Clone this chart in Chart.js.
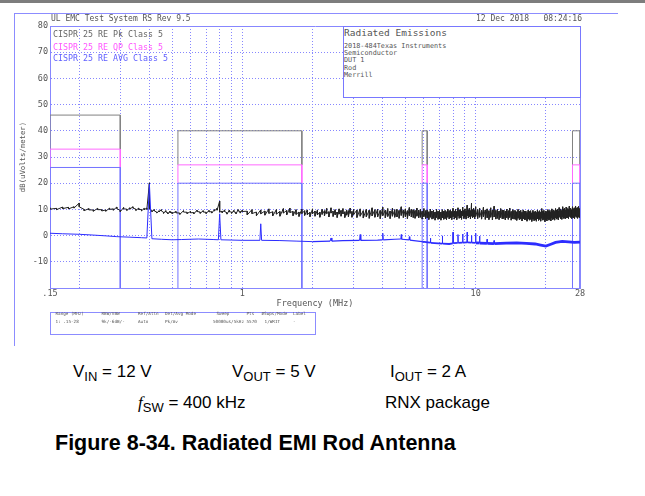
<!DOCTYPE html>
<html>
<head>
<meta charset="utf-8">
<script src="https://cdn.jsdelivr.net/npm/chart.js@4.4.1/dist/chart.umd.min.js"></script>
<style>
  html, body { margin: 0; padding: 0; background: #fff; }
  #page { position: relative; width: 645px; height: 496px; overflow: hidden; }
  #topbar { position: absolute; left: 0; top: 0; width: 645px; height: 3px; background: #7d7d7d; }
  #frameTop { position: absolute; left: 14px; top: 13px; width: 604px; height: 1px; background: rgb(140, 140, 255); }
  #frameLeft { position: absolute; left: 14px; top: 13px; width: 1px; height: 333px; background: rgb(140, 140, 255); }
  canvas { position: absolute; left: 0; top: 0; }
  .mono { position: absolute; font-family: 'DejaVu Sans Mono', monospace; white-space: pre; line-height: 1; color: #555; }
  #infoBox { position: absolute; left: 343px; top: 26px; width: 238px; height: 72px; box-sizing: border-box;
    border: 1px solid rgb(120, 120, 255); background: #fff; }
  #setBox { position: absolute; left: 50px; top: 312px; width: 266px; height: 23px; box-sizing: border-box;
    border: 1px solid rgb(140, 140, 255); }
  .cap { position: absolute; font-family: 'Liberation Sans', Arial, sans-serif; font-size: 17px; line-height: 17px;
    white-space: pre; color: #000; }
  .cap sub { font-size: 13px; vertical-align: -4px; line-height: 0; }
  #figTitle { position: absolute; left: 55px; top: 433px; font-family: 'Liberation Sans', Arial, sans-serif;
    font-weight: bold; font-size: 21.5px; line-height: 21.5px; white-space: pre; color: #000; }
</style>
</head>
<body>
<div id="page">
  <div id="topbar"></div>
  <div id="frameTop"></div>
  <div id="frameLeft"></div>
  <canvas id="emiChart" width="645" height="350"></canvas>

  <div class="mono" style="left:51px; top:15px; font-size:8px;">UL EMC Test System RS Rev 9.5</div>
  <div class="mono" style="left:476px; top:15px; font-size:8px;">12 Dec 2018   08:24:16</div>

  <div class="mono" style="left:53px; top:30px; font-size:8.3px; color:#666;">CISPR 25 RE Pk Class 5</div>
  <div class="mono" style="left:53px; top:42.5px; font-size:8.3px; color:#ff55ff;">CISPR 25 RE QP Class 5</div>
  <div class="mono" style="left:53px; top:54px; font-size:8.3px; color:#6060ff;">CISPR 25 RE AVG Class 5</div>

  <div id="infoBox"></div>
  <div class="mono" style="left:344px; top:28px; font-size:9.5px;">Radiated Emissions</div>
  <div class="mono" style="left:344px; top:42.5px; font-size:6.8px;">2018-484Texas Instruments</div>
  <div class="mono" style="left:344px; top:50px; font-size:6.8px;">Semiconductor</div>
  <div class="mono" style="left:344px; top:57.3px; font-size:6.8px;">DUT 1</div>
  <div class="mono" style="left:344px; top:64.6px; font-size:6.8px;">Rod</div>
  <div class="mono" style="left:344px; top:72px; font-size:6.8px;">Merrill</div>

  <div id="setBox"></div>
  <div class="mono" style="left:55.5px; top:312.3px; font-size:4.3px;">Range (MHz)</div>
  <div class="mono" style="left:101.5px; top:312.3px; font-size:4.3px;">RBW/VBW</div>
  <div class="mono" style="left:138px; top:312.3px; font-size:4.3px;">Ref/Attn</div>
  <div class="mono" style="left:165px; top:312.3px; font-size:4.3px;">Det/Avg Mode</div>
  <div class="mono" style="left:216.5px; top:312.3px; font-size:4.3px;">Sweep</div>
  <div class="mono" style="left:246.5px; top:312.3px; font-size:4.3px;">Pts</div>
  <div class="mono" style="left:261.5px; top:312.3px; font-size:4.3px;">#Swps/Mode</div>
  <div class="mono" style="left:293px; top:312.3px; font-size:4.3px;">Label</div>
  <div class="mono" style="left:55.5px; top:319.8px; font-size:4.3px;">1: .15-28</div>
  <div class="mono" style="left:101.5px; top:319.8px; font-size:4.3px;">9k/-6dB/-</div>
  <div class="mono" style="left:138px; top:319.8px; font-size:4.3px;">Auto</div>
  <div class="mono" style="left:165px; top:319.8px; font-size:4.3px;">Pk/Av</div>
  <div class="mono" style="left:213px; top:319.8px; font-size:4.3px;">50000us/5kHz</div>
  <div class="mono" style="left:246.5px; top:319.8px; font-size:4.3px;">5570</div>
  <div class="mono" style="left:262px; top:319.8px; font-size:4.3px;"> 1/WRIT</div>
  <div class="mono" style="left:293px; top:319.8px; font-size:4.3px;">-</div>

  <div class="cap" style="left:73px; top:362.5px;">V<sub>IN</sub> = 12 V</div>
  <div class="cap" style="left:232px; top:362.5px;">V<sub>OUT</sub> = 5 V</div>
  <div class="cap" style="left:390px; top:362.5px;">I<sub>OUT</sub> = 2 A</div>
  <div class="cap" style="left:138px; top:394px;"><i style="font-family:'Liberation Serif',serif;">f</i><sub>SW</sub> = 400 kHz</div>
  <div class="cap" style="left:385px; top:394px;">RNX package</div>
  <div id="figTitle">Figure 8-34. Radiated EMI Rod Antenna</div>
</div>

<script>
// axis ticks
const xGridTicks = [0.15, 0.2, 0.3, 0.4, 0.5, 0.6, 0.7, 0.8, 0.9,
  1, 2, 3, 4, 5, 6, 7, 8, 9, 10, 20, 28];
const xLabelValues = [0.15, 1, 10, 28];
const xLabelText = ['.15', '1', '10', '28'];
const yTickValues = [-20, -10, 0, 10, 20, 30, 40, 50, 60, 70, 80];
const Y_FLOOR = -20;

// CISPR 25 class 5 limits per band (LW, MW, SW, CB), dBuV/m
const bandStart = [0.15, 0.53, 5.9, 26];
const bandEnd = [0.3, 1.8, 6.2, 28];
const pkBand = [46, 40, 40, 40];
const qpBand = [33, 27, 27, 27];
const avgBand = [26, 20, 20, 20];

// peak detector sweep (MHz); max / min of each display bin
const sweepFreq = [
  0.15, 0.16, 0.17, 0.18, 0.19, 0.20, 0.21, 0.22, 0.23, 0.24,
  0.25, 0.26, 0.27, 0.28, 0.29, 0.30, 0.31, 0.32, 0.33, 0.34,
  0.35, 0.36, 0.37, 0.38, 0.39, 0.40, 0.41, 0.42, 0.43, 0.44,
  0.45, 0.46, 0.47, 0.48, 0.49, 0.50,
  0.52, 0.54, 0.56, 0.58, 0.60, 0.62, 0.64, 0.66, 0.68, 0.70,
  0.72, 0.74, 0.76, 0.78, 0.80, 0.82, 0.84, 0.86, 0.88, 0.90,
  0.92, 0.94, 0.96, 0.98, 1.00,
  1.05, 1.10, 1.15, 1.20, 1.25, 1.30, 1.35, 1.40, 1.45, 1.50,
  1.55, 1.60, 1.65, 1.70, 1.75, 1.80, 1.85, 1.90, 1.95, 2.00,
  2.05, 2.10, 2.15, 2.20, 2.25, 2.30, 2.35, 2.40, 2.45, 2.50,
  2.55, 2.60, 2.65, 2.70, 2.75, 2.80, 2.85, 2.90, 2.95, 3.00,
  3.1, 3.2, 3.3, 3.4, 3.5, 3.6, 3.7, 3.8, 3.9, 4.0,
  4.1, 4.2, 4.3, 4.4, 4.5, 4.6, 4.7, 4.8, 4.9, 5.0,
  5.1, 5.2, 5.3, 5.4, 5.5, 5.6, 5.7, 5.8, 5.9, 6.0,
  6.1, 6.2, 6.3, 6.4, 6.5, 6.6, 6.7, 6.8, 6.9, 7.0,
  7.1, 7.2, 7.3, 7.4, 7.5, 7.6, 7.7, 7.8, 7.9, 8.0,
  8.1, 8.2, 8.3, 8.4, 8.5, 8.6, 8.7, 8.8, 8.9, 9.0,
  9.1, 9.2, 9.3, 9.4, 9.5, 9.6, 9.7, 9.8, 9.9, 10.0,
  10.2, 10.4, 10.6, 10.8, 11.0, 11.2, 11.4, 11.6, 11.8, 12.0,
  12.2, 12.4, 12.6, 12.8, 13.0, 13.2, 13.4, 13.6, 13.8, 14.0,
  14.2, 14.4, 14.6, 14.8, 15.0, 15.2, 15.4, 15.6, 15.8, 16.0,
  16.2, 16.4, 16.6, 16.8, 17.0, 17.2, 17.4, 17.6, 17.8, 18.0,
  18.2, 18.4, 18.6, 18.8, 19.0, 19.2, 19.4, 19.6, 19.8, 20.0,
  20.2, 20.4, 20.6, 20.8, 21.0, 21.2, 21.4, 21.6, 21.8, 22.0,
  22.2, 22.4, 22.6, 22.8, 23.0, 23.2, 23.4, 23.6, 23.8, 24.0,
  24.2, 24.4, 24.6, 24.8, 25.0, 25.2, 25.4, 25.6, 25.8, 26.0,
  26.2, 26.4, 26.6, 26.8, 27.0, 27.2, 27.4, 27.6, 27.8, 28.0
];

const pkMax = [
  10.6, 10.4, 10.9, 10.8, 11.0, 12.4, 10.0, 10.3, 9.8, 10.4,
  9.9, 9.8, 10.5, 10.2, 10.9, 9.6, 10.7, 10.1, 10.6, 11.0,
  10.1, 10.5, 9.9, 10.4, 10.5, 20.1, 9.6, 9.9, 9.0, 9.5,
  9.9, 8.9, 9.5, 8.7, 9.3, 8.9,
  9.2, 8.6, 9.5, 8.9, 9.2, 8.8, 9.7, 9.0, 9.5, 8.9,
  9.6, 9.1, 9.9, 10.4, 13.2, 9.3, 9.8, 8.7, 9.7, 9.0,
  9.6, 8.8, 9.9, 9.2, 9.7,
  9.3, 9.9, 9.0, 9.8, 9.4, 10.2, 9.1, 9.9, 9.2, 10.3,
  9.6, 10.5, 9.2, 9.9, 9.0, 10.1, 9.5, 9.8, 8.9, 10.2,
  9.4, 9.8, 9.0, 10.0, 9.5, 10.4, 9.1, 10.6, 9.3, 9.9,
  9.0, 10.2, 9.6, 10.3, 9.1, 9.8, 9.5, 10.5, 9.2, 10.0,
  9.8, 10.2, 9.5, 10.0, 9.7, 10.6, 9.9, 10.1, 9.6, 10.8,
  9.7, 10.3, 9.4, 10.4, 9.9, 10.0, 9.6, 11.0, 9.8, 10.2,
  9.5, 10.7, 10.0, 9.9, 9.6, 10.5, 9.7, 10.1, 9.3, 10.3,
  9.5, 9.8, 9.1, 10.1, 9.4, 9.7, 9.0, 10.0, 9.3, 9.6,
  9.0, 9.9, 9.3, 9.6, 9.1, 10.1, 9.5, 9.8, 9.2, 10.4,
  9.4, 10.0, 9.2, 10.6, 9.7, 9.9, 9.3, 10.9, 9.6, 10.2,
  9.4, 11.6, 9.8, 10.5, 9.5, 12.3, 9.9, 10.4, 9.6, 11.0,
  9.9, 10.4, 9.6, 10.8, 9.8, 10.2, 9.5, 10.6, 9.7, 11.2,
  9.6, 10.0, 9.4, 10.3, 9.8, 9.7, 9.3, 10.1, 9.5, 10.5,
  9.2, 9.9, 9.6, 9.5, 9.1, 10.0, 9.4, 9.6, 8.9, 9.8,
  9.3, 9.4, 8.8, 9.7, 9.2, 9.5, 8.7, 9.6, 9.0, 9.3,
  8.8, 9.8, 9.1, 9.5, 8.9, 10.3, 9.3, 9.6, 8.7, 9.4,
  9.0, 9.9, 9.3, 9.6, 8.9, 10.2, 9.5, 9.8, 9.2, 10.3,
  9.7, 10.0, 9.4, 10.7, 9.9, 10.2, 9.6, 11.0, 10.1, 10.4,
  9.8, 10.9, 10.2, 10.3, 9.9, 11.2, 10.3, 10.5, 9.9, 11.0,
  10.2, 10.6, 9.9, 11.3, 10.4, 10.7, 10.0, 11.1, 10.3, 10.2
];

const pkMin = [
  10.1, 9.9, 10.3, 10.2, 10.5, 11.0, 9.5, 9.8, 9.3, 9.9,
  9.4, 9.3, 10.0, 9.7, 10.3, 9.1, 10.2, 9.6, 10.1, 10.5,
  9.6, 10.0, 9.4, 9.9, 10.0, 10.2, 9.1, 9.4, 8.6, 9.0,
  9.4, 8.5, 9.0, 8.3, 8.8, 8.4,
  8.7, 8.1, 9.0, 8.4, 8.7, 8.3, 9.2, 8.5, 9.0, 8.4,
  9.1, 8.6, 9.4, 9.7, 9.0, 8.7, 9.2, 8.2, 9.1, 8.5,
  9.1, 8.3, 9.4, 8.6, 9.2,
  7.9, 8.4, 7.6, 8.3, 7.8, 8.5, 7.5, 8.2, 7.4, 8.6,
  7.9, 8.8, 7.6, 8.1, 7.3, 8.4, 7.7, 8.0, 7.2, 8.3,
  7.4, 7.9, 7.0, 8.1, 7.5, 8.4, 7.1, 8.6, 7.3, 7.9,
  6.9, 8.2, 7.4, 8.3, 6.9, 7.8, 7.2, 8.5, 7.0, 8.0,
  6.9, 7.4, 6.7, 7.2, 6.6, 7.5, 7.0, 7.1, 6.5, 7.6,
  6.8, 7.3, 6.5, 7.4, 7.0, 7.1, 6.6, 7.7, 6.9, 7.2,
  6.5, 7.6, 7.1, 6.9, 6.6, 7.4, 6.8, 7.0, 6.3, 7.2,
  6.4, 6.8, 6.1, 7.0, 6.3, 6.6, 5.9, 6.9, 6.2, 6.5,
  5.9, 6.8, 6.2, 6.5, 6.0, 7.0, 6.4, 6.7, 6.1, 7.2,
  6.3, 6.9, 6.1, 7.4, 6.6, 6.8, 6.2, 7.6, 6.5, 7.0,
  6.3, 7.5, 6.7, 7.2, 6.4, 7.4, 6.8, 7.1, 6.5, 7.3,
  6.5, 7.0, 6.3, 7.2, 6.2, 6.8, 6.1, 7.0, 6.0, 7.1,
  6.3, 6.6, 6.1, 6.9, 6.4, 6.5, 6.0, 6.8, 6.2, 6.9,
  5.9, 6.5, 6.3, 6.2, 5.8, 6.6, 6.0, 6.3, 5.6, 6.4,
  6.0, 6.1, 5.5, 6.3, 5.9, 6.2, 5.4, 6.3, 5.7, 6.0,
  5.5, 6.4, 5.8, 6.2, 5.5, 6.6, 5.9, 6.2, 5.3, 6.0,
  5.6, 6.4, 5.9, 6.2, 5.6, 6.7, 6.1, 6.4, 5.9, 6.8,
  6.3, 6.6, 6.0, 7.0, 6.4, 6.7, 6.2, 7.2, 6.6, 6.9,
  6.4, 7.1, 6.7, 6.8, 6.5, 7.3, 6.9, 7.0, 6.5, 7.2,
  6.8, 7.0, 6.5, 7.4, 7.0, 7.1, 6.6, 7.3, 6.9, 7.0
];

// average detector trace
const avgFreq = [
  0.15, 0.17, 0.20, 0.23, 0.26, 0.29, 0.33, 0.37, 0.39, 0.40, 0.41, 0.45, 0.50,
  0.55, 0.65, 0.75, 0.79, 0.80, 0.81, 0.90, 1.00, 1.19, 1.20, 1.21, 1.45, 1.70,
  2.00, 2.38, 2.40, 2.42, 2.70, 3.18, 3.20, 3.22, 3.80, 3.98, 4.00, 4.02, 4.50,
  4.78, 4.80, 4.82, 5.18, 5.20, 5.22, 5.90, 6.38, 6.40, 6.42, 7.18, 7.20, 7.22,
  7.70, 7.98, 8.00, 8.02, 8.38, 8.40, 8.42, 8.78, 8.80, 8.82, 9.18, 9.20, 9.22,
  9.58, 9.60, 9.62, 9.98, 10.0, 10.02, 10.38, 10.4, 10.42, 11.18, 11.2, 11.22,
  11.98, 12.0, 12.02, 13.5, 15.0, 16.5, 18.0, 19.0, 20.0, 21.0, 22.0, 23.5,
  25.0, 26.5, 28.0
];
const avgLevel = [
  0.9, 0.7, 0.5, 0.2, -0.1, -0.4, -0.6, -0.8, -0.9, 19.6, -1.2, -1.4, -1.6,
  -1.5, -1.3, -1.5, -1.6, 8.3, -1.6, -1.7, -1.8, -1.8, 4.5, -1.8, -1.9, -2.1,
  -2.3, -2.1, -0.9, -2.1, -1.9, -1.8, 0.4, -1.8, -1.7, -1.6, 0.9, -1.6, -1.4,
  -1.3, 0.4, -1.4, -1.6, -0.4, -1.7, -2.3, -2.7, -1.0, -2.8, -3.1, -0.1, -3.1,
  -3.2, -3.0, 1.3, -2.9, -2.8, 0.4, -2.8, -2.7, 0.6, -2.7, -2.6, 1.3, -2.6,
  -2.7, 0.0, -2.7, -2.8, 0.9, -2.8, -2.8, -0.2, -2.9, -3.0, -1.4, -3.0,
  -3.1, -1.9, -3.1, -2.9, -2.8, -3.0, -3.2, -3.6, -4.0, -3.3, -2.6, -2.2,
  -2.4, -2.6, -2.5
];

const GRID_BLUE = 'rgb(135, 135, 255)';
const AXIS_FONT = { family: 'DejaVu Sans Mono', size: 8.5 };

// each limit is drawn as an open box per band, dropping to the next limit below
function bandOutline(top, base) {
  const pts = [];
  bandStart.forEach((f0, i) => {
    const b = Array.isArray(base) ? base[i] : base;
    pts.push({ x: f0, y: b }, { x: f0, y: top[i] }, { x: bandEnd[i], y: top[i] }, { x: bandEnd[i], y: b });
    pts.push({ x: bandEnd[i], y: null });
  });
  return pts;
}

function sweepPoints() {
  const pts = [];
  sweepFreq.forEach((f, i) => {
    pts.push({ x: f, y: pkMax[i] }, { x: f, y: pkMin[i] });
  });
  return pts;
}

function lineSet(label, data, color, order) {
  return {
    label,
    data,
    borderColor: color,
    borderWidth: 1,
    pointRadius: 0,
    tension: 0,
    fill: false,
    order,
  };
}

const avgTrace = lineSet('Avg', avgFreq.map((x, i) => ({ x, y: avgLevel[i] })), 'rgb(45, 45, 255)', 0);
avgTrace.segment = {
  // spikes stay thin, the noisy baseline gets thicker toward 28 MHz
  borderWidth: (ctx) => {
    if (Math.abs(ctx.p1.y - ctx.p0.y) > 3) return 1;
    const f = ctx.p0.parsed.x;
    return f >= 9.9 ? 2.8 : f >= 5.5 ? 1.8 : f >= 2 ? 1.2 : 1;
  },
};

const config = {
  type: 'line',
  data: {
    datasets: [
      avgTrace,
      lineSet('Peak', sweepPoints(), 'rgb(35, 35, 35)', 1),
      lineSet('AVG limit', bandOutline(avgBand, Y_FLOOR), 'rgb(115, 115, 255)', 2),
      lineSet('QP limit', bandOutline(qpBand, avgBand), 'rgb(255, 105, 255)', 3),
      lineSet('Pk limit', bandOutline(pkBand, qpBand), 'rgb(130, 130, 130)', 4),
    ],
  },
  options: {
    responsive: false,
    animation: false,
    events: [],
    layout: { padding: { left: 14, top: 26, right: 65, bottom: 41 } },
    scales: {
      x: {
        type: 'logarithmic',
        min: 0.15,
        max: 28,
        afterBuildTicks: (scale) => {
          scale.ticks = xGridTicks.map((value) => ({ value }));
        },
        afterFit: (scale) => {
          scale.height = 21;
        },
        ticks: {
          autoSkip: false,
          maxRotation: 0,
          padding: 1,
          color: '#555',
          font: AXIS_FONT,
          callback: (value) => {
            const i = xLabelValues.indexOf(value);
            return i >= 0 ? xLabelText[i] : '';
          },
        },
        grid: { color: GRID_BLUE, drawTicks: false },
        border: {
          color: GRID_BLUE,
          dash: (ctx) => (ctx.tick && ctx.tick.value === 28 ? [] : [1, 2]),
        },
        title: {
          display: true,
          text: 'Frequency (MHz)',
          color: '#555',
          font: { family: 'DejaVu Sans Mono', size: 8.5, lineHeight: 1 },
          padding: { top: 0, bottom: 0.5 },
        },
      },
      y: {
        min: Y_FLOOR,
        max: 80,
        afterBuildTicks: (scale) => {
          scale.ticks = yTickValues.map((value) => ({ value }));
        },
        afterFit: (scale) => {
          scale.width = 36;
        },
        ticks: {
          padding: 2,
          color: '#555',
          font: AXIS_FONT,
          callback: (value) => (value === Y_FLOOR ? '' : value),
        },
        grid: { color: GRID_BLUE, drawTicks: false },
        border: {
          color: GRID_BLUE,
          dash: (ctx) => (ctx.tick && ctx.tick.value === 80 ? [] : [1, 2]),
        },
        title: {
          display: true,
          text: 'dB(uVolts/meter)',
          color: '#555',
          font: { family: 'DejaVu Sans Mono', size: 7.3, lineHeight: 1.2 },
          padding: { top: 5, bottom: 0 },
        },
      },
    },
    plugins: {
      legend: { display: false },
      tooltip: { enabled: false },
    },
  },
};

new Chart(document.getElementById('emiChart').getContext('2d'), config);
</script>
</body>
</html>
